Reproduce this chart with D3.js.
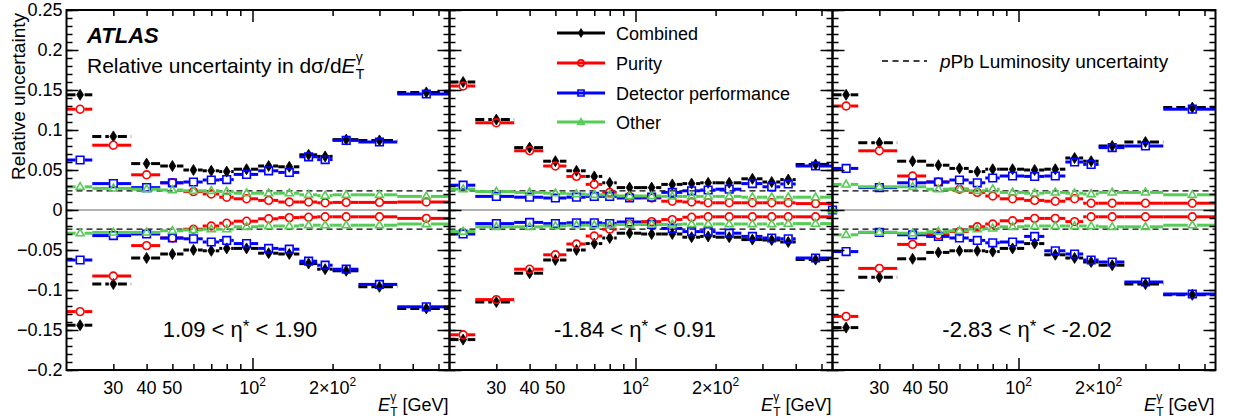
<!DOCTYPE html>
<html><head><meta charset="utf-8">
<script src="https://cdn.jsdelivr.net/npm/d3@7/dist/d3.min.js"></script>
<style>
body{margin:0;background:#fff}
text{font-family:"Liberation Sans",Arial,Helvetica,sans-serif;fill:#000}
</style>
</head><body>
<svg id="chart" width="1234" height="420"></svg>
<script>
// ---------------- DATA ----------------
const edgesA = [20,25,35,45,55,65,75,85,105,125,150,175,200,250,350,550];
const edgesB = [20,25,35,45,55,65,75,85,105,125,150,175,200,250,300,350,400,550];
const seriesNames = ["Combined","Purity","Detector performance","Other"];
const panelLabels = [["1.09 < η","*"," < 1.90"],["-1.84 < η","*"," < 0.91"],["-2.83 < η","*"," < -2.02"]];
const yMajorTicks = [-0.2,-0.15,-0.1,-0.05,0,0.05,0.1,0.15,0.2,0.25];
const xLabelValues = [30,40,50,100,200];
const xLabelTexts = ["30","40","50","10^2","2×10^2"];
const xMinorTicks = [30,40,50,60,70,80,90,200,300,400,500];
const xMajorTicks = [100];
const lumiUnc = 0.024;

// panel 1 : 1.09 < eta* < 1.90
const combUp1 = [0.144,0.092,0.058,0.055,0.050,0.049,0.048,0.051,0.055,0.054,0.069,0.067,0.088,0.087,0.147];
const combDn1 = [-0.144,-0.0925,-0.060,-0.055,-0.050,-0.051,-0.048,-0.048,-0.054,-0.055,-0.067,-0.074,-0.076,-0.096,-0.123];
const purUp1  = [0.126,0.081,0.044,0.034,0.023,0.020,0.016,0.014,0.012,0.010,0.010,0.009,0.0095,0.0095,0.010];
const purDn1  = [-0.127,-0.0825,-0.0445,-0.035,-0.024,-0.020,-0.0165,-0.014,-0.011,-0.0095,-0.009,-0.0085,-0.0085,-0.0085,-0.0105];
const detUp1  = [0.0625,0.033,0.028,0.034,0.035,0.0375,0.038,0.0445,0.049,0.047,0.0665,0.063,0.087,0.085,0.145];
const detDn1  = [-0.0625,-0.032,-0.030,-0.035,-0.036,-0.040,-0.038,-0.042,-0.048,-0.049,-0.064,-0.069,-0.074,-0.093,-0.121];
const othUp1  = [0.029,0.027,0.026,0.025,0.024,0.024,0.023,0.021,0.021,0.021,0.019,0.018,0.019,0.019,0.017];
const othDn1  = [-0.029,-0.028,-0.028,-0.026,-0.025,-0.024,-0.024,-0.021,-0.020,-0.020,-0.019,-0.019,-0.019,-0.019,-0.0175];

// panel 2 : -1.84 < eta* < 0.91
const combUp2 = [0.160,0.113,0.078,0.061,0.049,0.042,0.034,0.028,0.028,0.032,0.033,0.034,0.034,0.039,0.035,0.038,0.057];
const combDn2 = [-0.162,-0.115,-0.079,-0.0625,-0.050,-0.042,-0.035,-0.029,-0.030,-0.030,-0.034,-0.033,-0.034,-0.037,-0.0375,-0.040,-0.062];
const purUp2  = [0.155,0.109,0.074,0.055,0.042,0.032,0.022,0.017,0.015,0.011,0.010,0.009,0.009,0.009,0.009,0.009,0.008];
const purDn2  = [-0.156,-0.112,-0.074,-0.056,-0.0425,-0.0325,-0.024,-0.017,-0.0145,-0.012,-0.009,-0.0085,-0.0085,-0.0085,-0.0085,-0.0085,-0.0085];
const detUp2  = [0.031,0.017,0.016,0.015,0.016,0.017,0.017,0.015,0.016,0.022,0.024,0.025,0.026,0.033,0.029,0.0325,0.055];
const detDn2  = [-0.030,-0.017,-0.0155,-0.017,-0.016,-0.016,-0.017,-0.015,-0.018,-0.023,-0.027,-0.027,-0.029,-0.033,-0.035,-0.036,-0.060];
const othUp2  = [0.026,0.023,0.022,0.021,0.020,0.019,0.019,0.0175,0.0175,0.017,0.017,0.017,0.017,0.016,0.016,0.016,0.016];
const othDn2  = [-0.027,-0.021,-0.021,-0.020,-0.019,-0.019,-0.019,-0.018,-0.018,-0.018,-0.0175,-0.0175,-0.0175,-0.0175,-0.0175,-0.017,-0.017];
// stray points drawn on the right edge of panel 2
const edgePointX = 550;
const edgePointSeries = ["Detector performance","Other"];
const edgePointValue = 0;

// panel 3 : -2.83 < eta* < -2.02
const combUp3 = [0.144,0.084,0.061,0.056,0.052,0.048,0.051,0.051,0.050,0.051,0.065,0.061,0.080,0.085,0.128];
const combDn3 = [-0.147,-0.084,-0.061,-0.053,-0.051,-0.051,-0.052,-0.048,-0.042,-0.056,-0.060,-0.065,-0.069,-0.0925,-0.106];
const purUp3  = [0.130,0.074,0.0425,0.035,0.026,0.022,0.0175,0.014,0.012,0.011,0.014,0.0085,0.0085,0.0085,0.0085];
const purDn3  = [-0.133,-0.073,-0.043,-0.031,-0.027,-0.021,-0.0175,-0.0135,-0.0105,-0.0105,-0.0145,-0.0085,-0.0085,-0.0085,-0.0085];
const detUp3  = [0.052,0.028,0.034,0.035,0.0375,0.034,0.040,0.0425,0.042,0.0425,0.060,0.057,0.078,0.080,0.126];
const detDn3  = [-0.052,-0.028,-0.031,-0.033,-0.035,-0.038,-0.041,-0.040,-0.033,-0.051,-0.055,-0.0625,-0.065,-0.090,-0.105];
const othUp3  = [0.032,0.029,0.029,0.026,0.026,0.024,0.026,0.022,0.021,0.022,0.021,0.020,0.022,0.022,0.019];
const othDn3  = [-0.031,-0.028,-0.029,-0.027,-0.026,-0.024,-0.023,-0.021,-0.020,-0.020,-0.020,-0.020,-0.021,-0.021,-0.019];

// ---------------- STYLE / LAYOUT ----------------
const styles = {
  "Combined": {color:"#000000", dash:"9,4", marker:"diamond"},
  "Purity": {color:"#ff0000", dash:null, marker:"circle"},
  "Detector performance": {color:"#0000ff", dash:null, marker:"square"},
  "Other": {color:"#55cc55", dash:null, marker:"triangle"}
};
const panels = [
  {edges:edgesA, label:panelLabels[0], labelX:240, data:[[combUp1,combDn1],[purUp1,purDn1],[detUp1,detDn1],[othUp1,othDn1]]},
  {edges:edgesB, label:panelLabels[1], labelX:635, data:[[combUp2,combDn2],[purUp2,purDn2],[detUp2,detDn2],[othUp2,othDn2]], edge:true},
  {edges:edgesA, label:panelLabels[2], labelX:1027, data:[[combUp3,combDn3],[purUp3,purDn3],[detUp3,detDn3],[othUp3,othDn3]]}
];
const X0 = 66.5, PW = 383, TOP = 10, BOT = 370;
const svg = d3.select("#chart");
svg.append("rect").attr("width",1234).attr("height",420).attr("fill","#fff");
const y = d3.scaleLinear().domain([-0.2,0.25]).range([BOT,TOP]);

function markerPath(type, s){
  s = s||1;
  if(type==="diamond"){const w=3.4*s,h=5.5*s;return `M0,${-h}L${w},0L0,${h}L${-w},0Z`;}
  if(type==="square"){const a=3.8*s;return `M${-a},${-a}H${a}V${a}H${-a}Z`;}
  if(type==="triangle"){const a=4.2*s;return `M0,${-a}L${a*0.95},${a*0.62}L${-a*0.95},${a*0.62}Z`;}
  const r=3.9*s; return `M${-r},0A${r},${r} 0 1,0 ${r},0A${r},${r} 0 1,0 ${-r},0Z`;
}
function drawMarker(g, type, color, cx, cy, s){
  g.append("path").attr("d",markerPath(type,s)).attr("transform",`translate(${cx},${cy})`)
   .attr("fill", type==="diamond"?color:"none").attr("stroke",color)
   .attr("stroke-width", type==="diamond"?0.8:1.6);
}
function fmtY(d){ if(Math.abs(d)<1e-9) return "0"; const s=String(+Math.abs(d).toFixed(2)); return (d<0?"\u2212":"")+s; }
function addSupText(t, str, supSize, supDy){
  const parts = str.split("^");
  t.append("tspan").text(parts[0]);
  if(parts.length>1){ t.append("tspan").attr("font-size",supSize).attr("dy",supDy).text(parts[1]); }
}

panels.forEach((p,pi)=>{
  const left = X0 + pi*PW, right = left + PW;
  const x = d3.scaleLog().domain([20,550]).range([left,right]);
  const g = svg.append("g");
  // zero line
  g.append("line").attr("x1",left).attr("x2",right).attr("y1",y(0)).attr("y2",y(0))
   .attr("stroke","#999").attr("stroke-width",1.5);
  // lumi lines
  [lumiUnc,-lumiUnc].forEach(v=>{
    g.append("line").attr("x1",left).attr("x2",right).attr("y1",y(v)).attr("y2",y(v))
     .attr("stroke","#000").attr("stroke-width",1.3).attr("stroke-dasharray","6,4");
  });
  // series
  const gap = 4.5;
  p.data.forEach((ud,si)=>{
    const name = seriesNames[si], st = styles[name];
    const gs = g.append("g");
    const items = [];
    ud.forEach(arr=>arr.forEach((v,i)=>{
      const lo=p.edges[i], hi=p.edges[i+1];
      items.push({xl:x(lo), xr:x(hi), xc:x((lo+hi)/2), yv:y(v)});
    }));
    items.forEach(d=>{
      [[d.xl,d.xc-gap],[d.xc+gap,d.xr]].forEach(([a,b])=>{
        if(b>a) gs.append("line").attr("x1",a).attr("x2",b).attr("y1",d.yv).attr("y2",d.yv)
          .attr("stroke",st.color).attr("stroke-width",3).attr("stroke-dasharray",st.dash);
      });
    });
    items.forEach(d=>drawMarker(gs, st.marker, st.color, d.xc, d.yv, 1));
  });
  if(p.edge){
    edgePointSeries.forEach(n=>drawMarker(g, styles[n].marker, styles[n].color, x(edgePointX), y(edgePointValue), 1));
  }
  // axes (ticks inward)
  const ax = svg.append("g").attr("class","axes");
  const yl = ax.append("g").attr("transform",`translate(${left},0)`)
    .call(d3.axisLeft(y).tickValues(yMajorTicks).tickSize(-12).tickPadding(4).tickFormat(pi===0?fmtY:""));
  ax.append("g").attr("transform",`translate(${left},0)`)
    .call(d3.axisLeft(y).tickValues(d3.range(-20,26).map(k=>k/100)).tickSize(-6).tickFormat(""));
  ax.append("g").attr("transform",`translate(${right},0)`)
    .call(d3.axisRight(y).tickValues(yMajorTicks).tickSize(-12).tickFormat(""));
  ax.append("g").attr("transform",`translate(${right},0)`)
    .call(d3.axisRight(y).tickValues(d3.range(-20,26).map(k=>k/100)).tickSize(-6).tickFormat(""));
  ax.append("g").attr("transform",`translate(0,${BOT})`)
    .call(d3.axisBottom(x).tickValues(xMajorTicks).tickSize(-12).tickFormat(""));
  ax.append("g").attr("transform",`translate(0,${BOT})`)
    .call(d3.axisBottom(x).tickValues(xMinorTicks).tickSize(-6).tickFormat(""));
  ax.append("g").attr("transform",`translate(0,${TOP})`)
    .call(d3.axisTop(x).tickValues(xMajorTicks).tickSize(-12).tickFormat(""));
  ax.append("g").attr("transform",`translate(0,${TOP})`)
    .call(d3.axisTop(x).tickValues(xMinorTicks).tickSize(-6).tickFormat(""));
  yl.selectAll("text").attr("font-size",18).style("font-family","'Liberation Sans',Arial,sans-serif");
  ax.selectAll(".domain").remove();
  ax.selectAll(".tick line").attr("stroke","#000").attr("stroke-width",1.5);
  // frame
  svg.append("rect").attr("x",left).attr("y",TOP).attr("width",PW).attr("height",BOT-TOP)
    .attr("fill","none").attr("stroke","#000").attr("stroke-width",2);
  // x tick labels
  xLabelValues.forEach((v,i)=>{
    const t = svg.append("text").attr("x",x(v)).attr("y",394).attr("text-anchor","middle").attr("font-size",18);
    addSupText(t, xLabelTexts[i], 12, -8);
  });
  // x title
  const xt = svg.append("text").attr("x",right-1).attr("y",411).attr("text-anchor","end").attr("font-size",18);
  xt.append("tspan").attr("font-style","italic").text("E");
  xt.append("tspan").attr("font-size",12).attr("dy",-10).text("γ");
  xt.append("tspan").attr("font-size",12).attr("dx",-6).attr("dy",15).text("T");
  xt.append("tspan").attr("dy",-5).text(" [GeV]");
  // panel label
  const pl = svg.append("text").attr("x",p.labelX).attr("y",337).attr("text-anchor","middle").attr("font-size",22);
  pl.append("tspan").text(p.label[0]);
  pl.append("tspan").attr("font-size",17).attr("dy",-5).text(p.label[1]);
  pl.append("tspan").attr("dy",5).text(p.label[2]);
});

// y title
svg.append("text").attr("transform","translate(25,13) rotate(-90)").attr("text-anchor","end")
  .attr("font-size",19).text("Relative uncertainty");
// ATLAS
svg.append("text").attr("x",87).attr("y",43).attr("font-size",22).attr("font-weight","bold")
  .attr("font-style","italic").text("ATLAS");
const tt = svg.append("text").attr("x",87).attr("y",73).attr("font-size",21);
tt.append("tspan").text("Relative uncertainty in dσ/d");
tt.append("tspan").attr("font-style","italic").text("E");
tt.append("tspan").attr("font-size",14).attr("dy",-11).text("γ");
tt.append("tspan").attr("font-size",14).attr("dx",-7).attr("dy",17).text("T");

// legend
const legY = [33,63,93,122];
seriesNames.forEach((n,i)=>{
  const st = styles[n];
  svg.append("line").attr("x1",557).attr("x2",605).attr("y1",legY[i]).attr("y2",legY[i])
    .attr("stroke",st.color).attr("stroke-width",3);
  drawMarker(svg, st.marker, st.color, 581, legY[i], 0.8);
  svg.append("text").attr("x",616).attr("y",legY[i]+6.5).attr("font-size",18).text(n);
});
svg.append("line").attr("x1",882).attr("x2",927).attr("y1",61).attr("y2",61)
  .attr("stroke","#000").attr("stroke-width",1.5).attr("stroke-dasharray","6,4.5");
const lt = svg.append("text").attr("x",940).attr("y",67.5).attr("font-size",19);
lt.append("tspan").attr("font-style","italic").text("p");
lt.append("tspan").text("Pb Luminosity uncertainty");
</script>
</body></html>
